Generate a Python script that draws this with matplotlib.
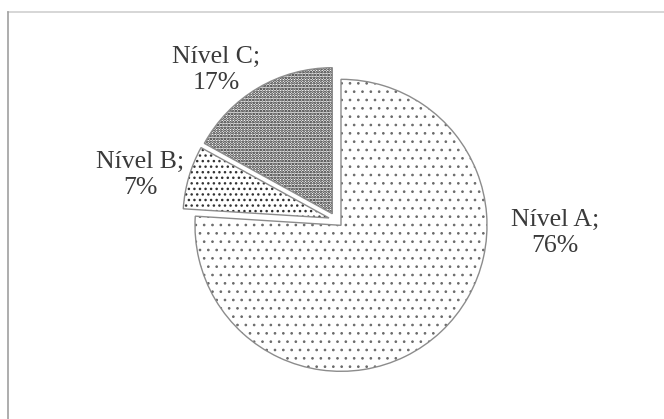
import matplotlib
matplotlib.use("Agg")
import matplotlib.pyplot as plt
from matplotlib.lines import Line2D

plt.rcParams['font.family'] = ['Liberation Serif', 'DejaVu Serif']

# data
labels = ["Nível A", "Nível B", "Nível C"]
shares = [76, 7, 17]
hatches = ["..", "...", "......"]
hatch_colors = ["#6a6a6a", "#333333", "#111111"]
hatch_widths = [0.7, 1.0, 1.3]

# label placement (data units, pie radius = 1)
label_pos = [(1.50, -0.09), (-1.34, 0.31), (-0.82, 1.03)]

W, H, DPI = 664, 419, 100
fig = plt.figure(figsize=(W / DPI, H / DPI), dpi=DPI)
ax = fig.add_axes([0, 0, 1, 1])

# pie centre / radius in pixels
cx, cy, r = 336, 220, 146

# hatch layer (edges off)
wedges, _ = ax.pie(shares, startangle=90, counterclock=False, radius=1,
                   explode=[0.05] * 3,
                   wedgeprops=dict(facecolor="white", linewidth=0))
for w, h, c, lw in zip(wedges, hatches, hatch_colors, hatch_widths):
    w.set_hatch(h)
    w.set_edgecolor(c)
    if hasattr(w, "set_hatch_linewidth"):
        w.set_hatch_linewidth(lw)

# outline layer
ax.pie(shares, startangle=90, counterclock=False, radius=1,
       explode=[0.05] * 3,
       wedgeprops=dict(fill=False, edgecolor="#8c8c8c", linewidth=1.0))

for lab, val, (x, y) in zip(labels, shares, label_pos):
    ax.text(x, y, f"{lab};\n{val}%", ha="center", va="center",
            multialignment="center", fontsize=18.5, color="#3a3a3a",
            linespacing=1.25)

ax.set_xlim(-cx / r, (W - cx) / r)
ax.set_ylim(-(H - cy) / r, cy / r)
ax.set_aspect("auto")
ax.axis("off")

# frame of the original chart area
top = 1 - 12 / H
left = 8 / W
fig.add_artist(Line2D([left, 1], [top, top], color="#d0d0d0", lw=1.2))
fig.add_artist(Line2D([left, left], [0, top], color="#a0a0a0", lw=1.2))

fig.savefig("out.png", dpi=DPI)
